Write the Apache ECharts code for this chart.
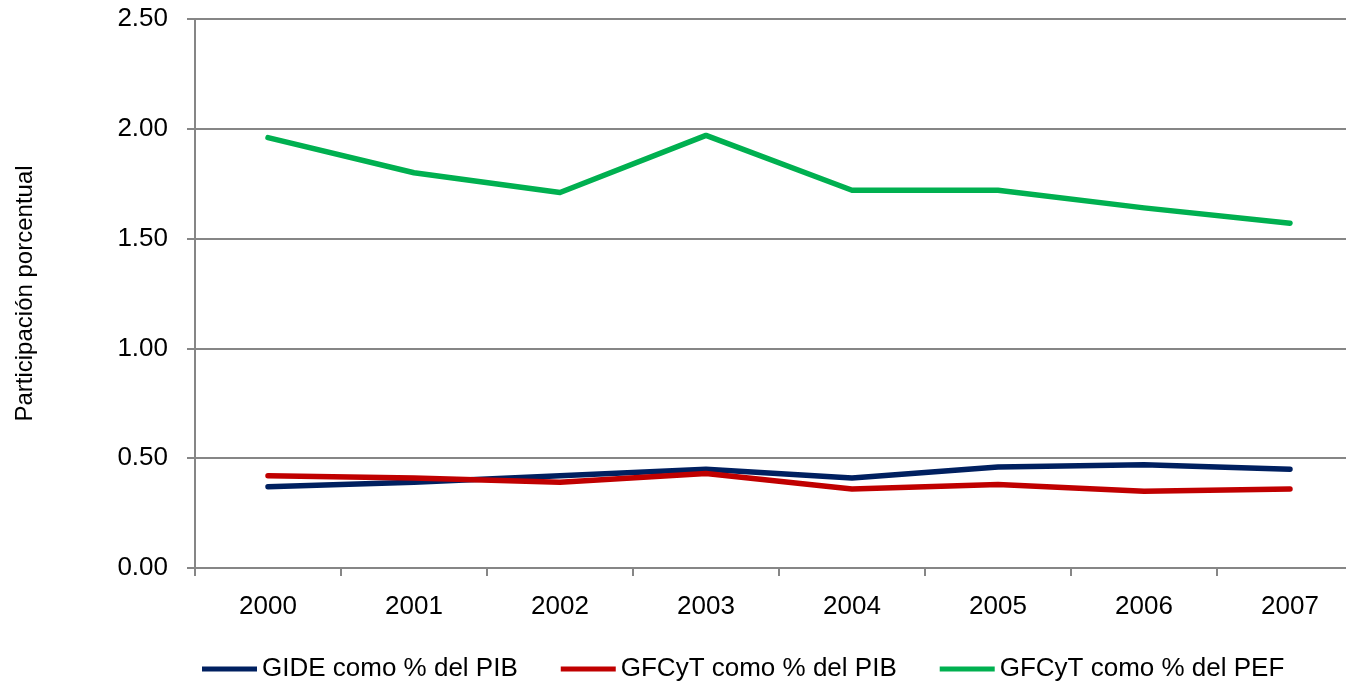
<!DOCTYPE html>
<html>
<head>
<meta charset="utf-8">
<script src="https://cdn.jsdelivr.net/npm/echarts@6/dist/echarts.min.js"></script>
<style>
  html, body { margin: 0; padding: 0; background: #fff; overflow: hidden; }
  #chart { width: 1346px; height: 689px; }
</style>
</head>
<body>
<div id="chart"></div>
<script>
  // años
  const years = ['2000', '2001', '2002', '2003', '2004', '2005', '2006', '2007'];
  // series
  const gidePib = [0.37, 0.39, 0.42, 0.45, 0.41, 0.46, 0.47, 0.45];
  const gfcytPib = [0.42, 0.41, 0.39, 0.43, 0.36, 0.38, 0.35, 0.36];
  const gfcytPef = [1.96, 1.80, 1.71, 1.97, 1.72, 1.72, 1.64, 1.57];
  const seriesNames = ['GIDE como % del PIB', 'GFCyT como % del PIB', 'GFCyT como % del PEF'];

  const chart = echarts.init(document.getElementById('chart'));
  const axisGrey = '#868686';
  const font = 'Liberation Sans, Arial, sans-serif';

  const option = {
    animation: false,
    grid: { left: 195, width: 1168, top: 19, bottom: 121, outerBoundsMode: 'none', containLabel: false },
    legend: {
      data: seriesNames,
      bottom: 2,
      left: 197,
      itemWidth: 55,
      itemHeight: 5,
      itemGap: 43,
      icon: 'rect',
      textStyle: { fontFamily: font, fontSize: 26, color: '#000' }
    },
    xAxis: {
      type: 'category',
      data: years,
      axisLine: { lineStyle: { color: axisGrey, width: 2 } },
      axisTick: { show: true, length: 8, lineStyle: { color: axisGrey, width: 2 } },
      axisLabel: { fontFamily: font, fontSize: 26, color: '#000', margin: 26 }
    },
    yAxis: {
      type: 'value',
      min: 0,
      max: 2.5,
      interval: 0.5,
      name: 'Participación porcentual',
      nameLocation: 'middle',
      nameRotate: 90,
      nameGap: 158,
      nameTextStyle: { fontFamily: font, fontSize: 24, color: '#000' },
      axisLine: { show: true, lineStyle: { color: axisGrey, width: 2 } },
      axisTick: { show: true, length: 8, lineStyle: { color: axisGrey, width: 2 } },
      axisLabel: {
        fontFamily: font, fontSize: 26, color: '#000', margin: 27,
        formatter: v => v.toFixed(2)
      },
      splitLine: { lineStyle: { color: axisGrey, width: 2 } }
    },
    series: [
      { name: seriesNames[0], type: 'line', data: gidePib, color: '#002060' },
      { name: seriesNames[1], type: 'line', data: gfcytPib, color: '#C00000' },
      { name: seriesNames[2], type: 'line', data: gfcytPef, color: '#00B050' }
    ].map(s => Object.assign(s, {
      symbol: 'none',
      lineStyle: { width: 5.5, cap: 'round', join: 'round' }
    }))
  };

  chart.setOption(option);
</script>
</body>
</html>
